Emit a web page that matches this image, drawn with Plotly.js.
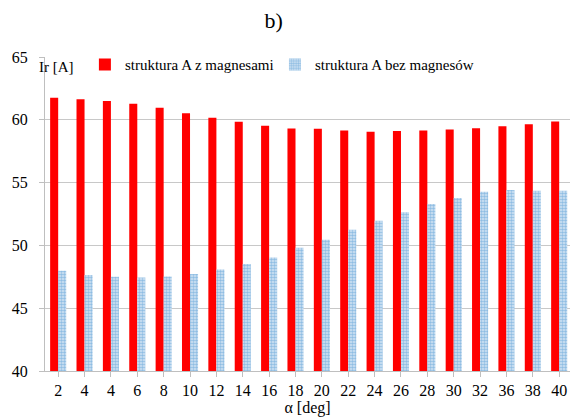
<!DOCTYPE html>
<html>
<head>
<meta charset="utf-8">
<script src="https://cdn.plot.ly/plotly-3.0.1.min.js"></script>
<style>html,body{margin:0;padding:0;background:#fff;}#chart{width:570px;height:418px;}</style>
</head>
<body>
<div id="chart"></div>
<script>
const tickLabels = ["2","4","4","6","8","10","12","14","16","18","20","22","24","26","28","30","32","36","38","40"];
const withMagnets = [61.75,61.64,61.5,61.27,60.96,60.53,60.16,59.84,59.52,59.3,59.28,59.15,59.04,59.1,59.15,59.23,59.33,59.49,59.65,59.86];
const withoutMagnets = [47.98,47.64,47.5,47.45,47.53,47.72,48.09,48.52,49.04,49.82,50.45,51.25,51.97,52.63,53.3,53.78,54.28,54.41,54.36,54.36];
const seriesNames = ["struktura A z magnesami","struktura A bez magnesów"];

const idx = tickLabels.map((_, i) => i);
const font = "Liberation Serif";

const traces = [
  {type:"bar", x:idx, y:withMagnets, name:seriesNames[0], marker:{color:"#ff0000"}, hoverinfo:"skip", legend:"legend"},
  {type:"bar", x:idx, y:withoutMagnets, name:seriesNames[1],
   marker:{color:"#d6e6f5", pattern:{shape:".", fgcolor:"#8fbde3", bgcolor:"#d6e6f5", size:3, solidity:0.55}}, hoverinfo:"skip", legend:"legend2"}
];

const legendBase = {font:{family:font, size:15, color:"#000"}, bgcolor:"rgba(0,0,0,0)", itemwidth:30, xanchor:"left", yanchor:"middle", y:0.975};

const layout = {
  width:570, height:418,
  margin:{l:45, r:0, t:57, b:47},
  paper_bgcolor:"#fff", plot_bgcolor:"#fff",
  font:{family:font, size:16, color:"#000"},
  title:{text:"b)", font:{family:font, size:22, color:"#000"}, xref:"container", x:0.48, xanchor:"center", y:0.97, yanchor:"top"},
  barmode:"group", bargap:0.39, bargroupgap:0,
  xaxis:{
    tickmode:"array", tickvals:idx, ticktext:tickLabels,
    range:[-0.5, 19.41],
    tickson:"boundaries", ticks:"outside", ticklen:5, tickcolor:"#bfbfbf",
    showline:true, linecolor:"#bfbfbf", linewidth:1,
    showgrid:false, zeroline:false,
    tickfont:{family:font, size:16, color:"#000"},
    title:{text:"α [deg]", font:{family:font, size:16, color:"#000"}, standoff:2}
  },
  yaxis:{
    range:[40,65], tickvals:[40,45,50,55,60,65],
    ticks:"outside", ticklen:5, tickcolor:"#bfbfbf", ticklabelstandoff:8,
    showline:true, linecolor:"#bfbfbf", linewidth:1,
    gridcolor:"#c8c8c8", gridwidth:1, zeroline:false,
    tickfont:{family:font, size:16, color:"#000"}
  },
  showlegend:true,
  legend:Object.assign({}, legendBase, {x:0.076}),
  legend2:Object.assign({}, legendBase, {x:0.438}),
  annotations:[
    {text:"Ir [A]", xref:"paper", yref:"paper", x:-0.016, y:1.0, xanchor:"left", yanchor:"top",
     showarrow:false, font:{family:font, size:15, color:"#000"}}
  ]
};

Plotly.newPlot("chart", traces, layout, {displayModeBar:false, staticPlot:true});
</script>
</body>
</html>
